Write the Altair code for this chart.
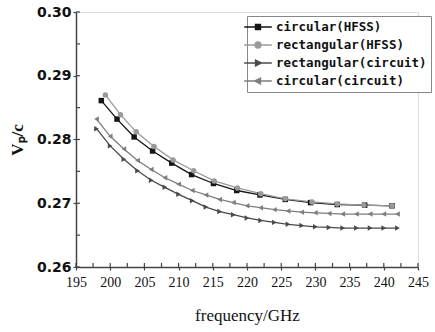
import altair as alt
import pandas as pd

series_names = ["circular(HFSS)", "rectangular(HFSS)", "rectangular(circuit)", "circular(circuit)"]
series_colors = ["#151515", "#9a9a9a", "#4a4a4a", "#7e7e7e"]
series_shapes = ["square", "circle", "triangle-right", "triangle-left"]

# circular(HFSS)
f_circ_hfss = [198.7, 201.0, 203.5, 206.2, 209.0, 211.9, 215.1, 218.5, 221.9, 225.6, 229.3, 233.2, 237.2, 241.2]
v_circ_hfss = [0.2861, 0.2832, 0.2804, 0.2782, 0.2763, 0.2745, 0.2731, 0.2720, 0.2713, 0.2706, 0.2701, 0.2698, 0.2697, 0.2696]
# rectangular(HFSS)
f_rect_hfss = [199.3, 201.5, 203.8, 206.4, 209.2, 212.2, 215.2, 218.6, 222.0, 225.6, 229.5, 233.2, 237.1, 241.2]
v_rect_hfss = [0.2870, 0.2839, 0.2812, 0.2789, 0.2768, 0.2751, 0.2735, 0.2724, 0.2715, 0.2707, 0.2702, 0.2699, 0.2697, 0.2696]
# circuit frequencies
f_circuit = [198, 200, 202, 204, 206, 208, 210, 212, 214, 216, 218, 220, 222, 224, 226, 228, 230, 232, 234, 236, 238, 240, 242]
# rectangular(circuit)
v_rect_circuit = [0.2817, 0.2790, 0.2769, 0.2751, 0.2736, 0.2725, 0.2714, 0.2704, 0.2694, 0.2687, 0.2682, 0.2677, 0.2673,
                  0.2670, 0.2667, 0.2665, 0.2663, 0.2662, 0.2661, 0.2661, 0.2661, 0.2661, 0.2661]
# circular(circuit)
v_circ_circuit = [0.2832, 0.2805, 0.2785, 0.2767, 0.2753, 0.2740, 0.2730, 0.2720, 0.2713, 0.2706, 0.2701, 0.2696, 0.2693,
                  0.2690, 0.2688, 0.2686, 0.2685, 0.2684, 0.2683, 0.2683, 0.2683, 0.2683, 0.2683]

x_major = [195, 200, 205, 210, 215, 220, 225, 230, 235, 240, 245]
x_minor = [197.5, 202.5, 207.5, 212.5, 217.5, 222.5, 227.5, 232.5, 237.5, 242.5]
y_major = [0.26, 0.27, 0.28, 0.29, 0.30]
y_minor = [0.265, 0.275, 0.285, 0.295]

rows = []
for name, fs, vs in [
    (series_names[0], f_circ_hfss, v_circ_hfss),
    (series_names[1], f_rect_hfss, v_rect_hfss),
    (series_names[2], f_circuit, v_rect_circuit),
    (series_names[3], f_circuit, v_circ_circuit),
]:
    for f, v in zip(fs, vs):
        rows.append({"series": name, "f": f, "v": v})
df = pd.DataFrame(rows)

W, H = 342, 255

xscale = alt.Scale(domain=[195, 245], nice=False, zero=False)
yscale = alt.Scale(domain=[0.26, 0.30], nice=False, zero=False)
cscale = alt.Scale(domain=series_names, range=series_colors)
sscale = alt.Scale(domain=series_names, range=series_shapes)

# legend symbols: short line with the series marker in the middle
legend_paths = [
    "M-2.3,0H2.3M-0.42,-0.42H0.42V0.42H-0.42Z",
    "M-2.3,0H2.3M-0.5,0A0.5,0.5,0,1,0,0.5,0A0.5,0.5,0,1,0,-0.5,0Z",
    "M-2.3,0H2.3M-0.42,-0.5L0.58,0L-0.42,0.5Z",
    "M-2.3,0H2.3M0.42,-0.5L-0.58,0L0.42,0.5Z",
]
lscale = alt.Scale(domain=series_names, range=legend_paths)

xaxis = alt.Axis(values=x_major, grid=False, ticks=True, tickSize=3, tickColor="#444", tickWidth=1.2,
                 domainColor="#444", domainWidth=1.5, labelFont="Liberation Serif", labelFontSize=14,
                 labelColor="#111", labelPadding=5, labelOverlap=False, title="frequency/GHz",
                 titleFont="Liberation Serif", titleFontSize=17, titleFontWeight="normal", titleColor="#111",
                 titlePadding=18, labelFlush=False)
yaxis = alt.Axis(values=y_major, grid=False, ticks=True, tickSize=3, tickColor="#444", tickWidth=1.2,
                 domainColor="#444", domainWidth=1.5, labelFont="DejaVu Sans", labelFontSize=14,
                 labelFontWeight="bold", labelColor="#111", labelPadding=2, format=".2f", labelOverlap=False,
                 title="Vₚ/c", titleFont="Liberation Serif", titleFontSize=17, titleFontWeight="bold",
                 titleColor="#111", titlePadding=10, labelFlush=False)

base = alt.Chart(df)

lines = base.mark_line(strokeWidth=1.3).encode(
    x=alt.X("f:Q", scale=xscale, axis=xaxis),
    y=alt.Y("v:Q", scale=yscale, axis=yaxis),
    color=alt.Color("series:N", scale=cscale, legend=None),
    detail="series:N",
)

points = base.mark_point(filled=True, opacity=1).encode(
    x=alt.X("f:Q", scale=xscale, axis=xaxis),
    y=alt.Y("v:Q", scale=yscale, axis=yaxis),
    color=alt.Color("series:N", scale=cscale, legend=None),
    shape=alt.Shape("series:N", scale=sscale, legend=None),
    size=alt.value(30),
)

leg = alt.Legend(
    title=None, orient="none", legendX=171, legendY=4, padding=4,
    strokeColor="#888", fillColor="white", rowPadding=4,
    labelFont="DejaVu Sans Mono", labelFontSize=12.5, labelFontWeight="bold", labelColor="#111",
    labelOffset=11, symbolSize=144, symbolStrokeWidth=1.3, labelLimit=400, symbolOpacity=1,
)

legend_layer = base.transform_filter("false").mark_point(filled=True, opacity=1, strokeWidth=1.3).encode(
    x=alt.X("f:Q", scale=xscale, axis=xaxis),
    y=alt.Y("v:Q", scale=yscale, axis=yaxis),
    fill=alt.Fill("series:N", scale=cscale, legend=leg),
    stroke=alt.Stroke("series:N", scale=cscale, legend=leg),
    shape=alt.Shape("series:N", scale=lscale, legend=leg),
)

x_tick_df = pd.DataFrame({"t": x_major + x_minor})
y_tick_df = pd.DataFrame({"t": y_major + y_minor})

xticks = alt.Chart(x_tick_df).mark_rule(color="#444", strokeWidth=1.2).encode(
    x=alt.X("t:Q", scale=xscale, axis=xaxis), y=alt.value(H), y2=alt.value(H - 4))
yticks = alt.Chart(y_tick_df).mark_rule(color="#444", strokeWidth=1.2).encode(
    y=alt.Y("t:Q", scale=yscale, axis=yaxis), x=alt.value(0), x2=alt.value(4))

chart = alt.layer(lines, points, xticks, yticks, legend_layer).resolve_scale(
    shape="independent", fill="independent", stroke="independent"
).properties(
    width=W, height=H,
    autosize=alt.AutoSizeParams(type="none"),
    padding={"left": 76, "top": 12, "right": 17, "bottom": 65},
).configure_view(stroke=None).configure(background="white")

chart.save("out.html", embed_options={"renderer": "svg", "actions": False})
